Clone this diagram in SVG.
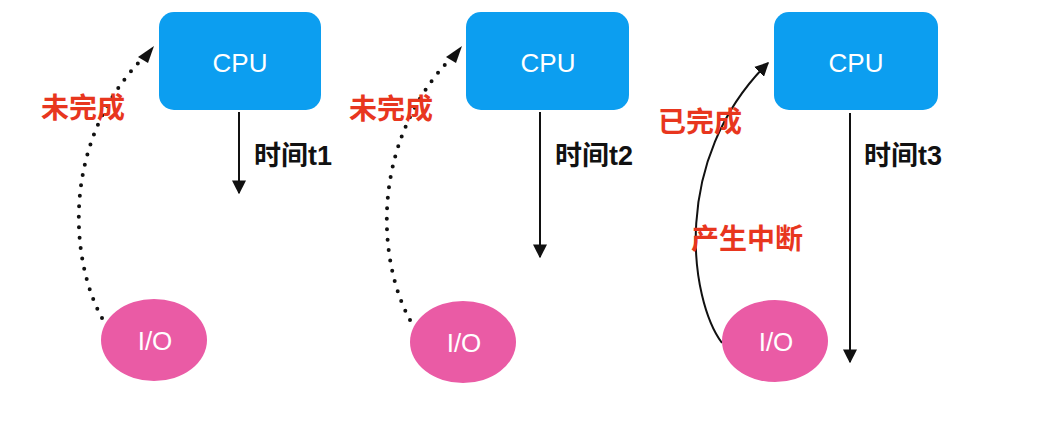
<svg xmlns="http://www.w3.org/2000/svg" width="1043" height="423" viewBox="0 0 1043 423">
<style>
.cpu{fill:#0C9EF0}
.io{fill:#EA5BA5}
.nt{fill:#fff;font-family:"Liberation Sans",Arial,sans-serif;font-size:26px;text-anchor:middle}
.red{fill:#E8361E;font-family:"Liberation Sans","Noto Sans CJK SC",sans-serif;font-size:28px;font-weight:bold}
.blk{fill:#111;font-family:"Liberation Sans","Noto Sans CJK SC",sans-serif;font-size:27px;font-weight:bold}
.ln{fill:none;stroke:#111;stroke-width:2}
.dot{fill:none;stroke:#111;stroke-width:4;stroke-linecap:round;stroke-dasharray:0 10.5}
</style>
<defs>
<marker id="ahb" viewBox="0 0 10 10" refX="9" refY="5" markerWidth="14" markerHeight="14" markerUnits="userSpaceOnUse" orient="auto">
<path d="M0,0 L10,5 L0,10 z" fill="#111"/>
</marker>
</defs>
<rect width="1043" height="423" fill="#fff"/>
<g id="connectors">
<path class="ln" d="M239 112 V193" marker-end="url(#ahb)"/>
<path class="ln" d="M540 112 V257" marker-end="url(#ahb)"/>
<path class="ln" d="M850 113 V362" marker-end="url(#ahb)"/>
<path class="dot" d="M102 318 C70 260 60 140 146 55"/>
<path d="M154 46 L138 57 L148 63 z" fill="#111"/>
<path class="dot" d="M410 320 C378 262 368 142 454 55"/>
<path d="M462 46 L446 57 L456 63 z" fill="#111"/>
<path class="ln" d="M722 343 C690 300 670 160 768 63" marker-end="url(#ahb)"/>
</g>
<g id="cpu1"><rect class="cpu" x="159" y="12" width="162" height="98" rx="15"/><text class="nt" x="240" y="72">CPU</text></g>
<g id="cpu2"><rect class="cpu" x="466" y="12" width="163" height="98" rx="15"/><text class="nt" x="548" y="72">CPU</text></g>
<g id="cpu3"><rect class="cpu" x="774" y="12" width="164" height="98" rx="15"/><text class="nt" x="856" y="72">CPU</text></g>
<g id="io1"><ellipse class="io" cx="154" cy="340" rx="53" ry="41"/><text class="nt" x="155" y="350">I/O</text></g>
<g id="io2"><ellipse class="io" cx="463" cy="342" rx="53" ry="41"/><text class="nt" x="464" y="352">I/O</text></g>
<g id="io3"><ellipse class="io" cx="775" cy="341" rx="53" ry="41"/><text class="nt" x="776" y="351">I/O</text></g>
<g id="labels">
<text class="red" x="41" y="118">未完成</text>
<text class="red" x="349" y="119">未完成</text>
<text class="red" x="658" y="132">已完成</text>
<text class="red" x="691" y="249">产生中断</text>
<text class="blk" x="254" y="165">时间t1</text>
<text class="blk" x="555" y="165">时间t2</text>
<text class="blk" x="864" y="165">时间t3</text>
</g>
</svg>
